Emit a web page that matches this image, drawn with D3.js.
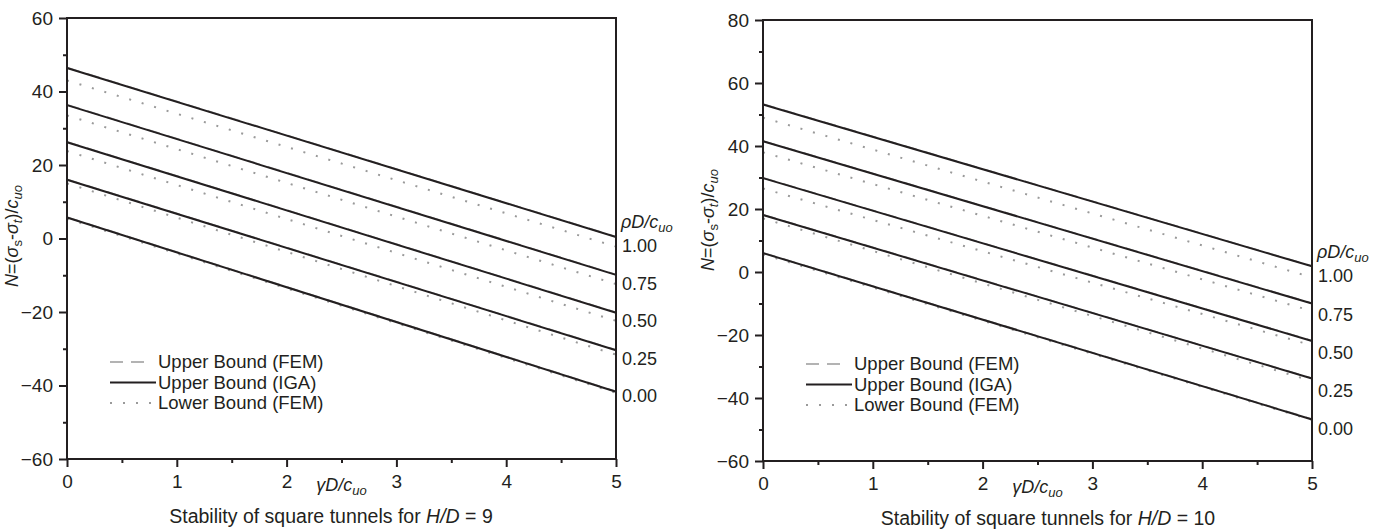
<!DOCTYPE html>
<html><head><meta charset="utf-8">
<script src="https://cdn.jsdelivr.net/npm/d3@7"></script>
<style>
html,body{margin:0;padding:0;background:#fff;}
svg{display:block;font-family:"Liberation Sans",Arial,Helvetica,sans-serif;}
</style></head><body>
<svg id="chart" width="1387" height="530"></svg>
<script>
// ---- data --------------------------------------------------------------
const rhoLabels = ["1.00", "0.75", "0.50", "0.25", "0.00"];
const gammaValues = [0, 5];
const xTicks = [0, 1, 2, 3, 4, 5];
const xMinorTicks = [0.5, 1.5, 2.5, 3.5, 4.5];
const yTicksH9 = [-60, -40, -20, 0, 20, 40, 60];
const yMinorH9 = [-50, -30, -10, 10, 30, 50];
const yTicksH10 = [-60, -40, -20, 0, 20, 40, 60, 80];
const yMinorH10 = [-50, -30, -10, 10, 30, 50, 70];
const legendLabels = ["Upper Bound (FEM)", "Upper Bound (IGA)", "Lower Bound (FEM)"];

// H/D = 9 : N at γD/c_uo = 0 and 5, one entry per ρD/c_uo
const igaH9At0 = [46.4, 36.3, 26.2, 16.0, 5.7];
const igaH9At5 = [0.4, -9.9, -20.2, -30.4, -41.7];
const ubFemH9At0 = [46.5, 36.4, 26.3, 16.1, 5.8];
const ubFemH9At5 = [0.5, -9.8, -20.1, -30.3, -41.6];
const lbFemH9At0 = [43.0, 33.5, 23.8, 15.0, 5.4];
const lbFemH9At5 = [-2.2, -12.4, -22.4, -31.6, -42.0];

// H/D = 10
const igaH10At0 = [53.2, 41.5, 29.8, 18.1, 6.0];
const igaH10At5 = [1.8, -10.0, -21.9, -33.8, -46.8];
const ubFemH10At0 = [53.3, 41.6, 29.9, 18.2, 6.1];
const ubFemH10At5 = [1.9, -9.9, -21.8, -33.7, -46.7];
const lbFemH10At0 = [49.0, 38.0, 26.5, 17.0, 5.6];
const lbFemH10At5 = [-1.7, -12.4, -23.3, -34.6, -47.0];

// ---- drawing -----------------------------------------------------------
const ink = "#231f20";
const grey = "#9a9a9a";
const svg = d3.select("#chart");

const panels = [
  { hd: "9", left: 67, right: 616, top: 18, bottom: 459, yDomain: [-60, 60],
    yTicks: yTicksH9, yMinor: yMinorH9,
    iga: [igaH9At0, igaH9At5], ub: [ubFemH9At0, ubFemH9At5], lb: [lbFemH9At0, lbFemH9At5],
    labelFirst: -2.0, labelLast: -42.8, headerAt: 4.5,
    titleCenter: 236, captionX: 331 },
  { hd: "10", left: 763, right: 1312, top: 20, bottom: 461, yDomain: [-60, 80],
    yTicks: yTicksH10, yMinor: yMinorH10,
    iga: [igaH10At0, igaH10At5], ub: [ubFemH10At0, ubFemH10At5], lb: [lbFemH10At0, lbFemH10At5],
    labelFirst: -1.3, labelLast: -49.7, headerAt: 6.6,
    titleCenter: 220, captionX: 1048 }
];

function lineSeries(pair) {
  return pair[0].map((v, i) => gammaValues.map((g, k) => [g, pair[k][i]]));
}

panels.forEach(p => {
  const g = svg.append("g");
  const x = d3.scaleLinear().domain([0, 5]).range([p.left, p.right]);
  const y = d3.scaleLinear().domain(p.yDomain).range([p.bottom, p.top]);
  const line = d3.line().x(d => x(d[0])).y(d => y(d[1]));

  // curves: upper FEM (dashed) under lower FEM (dotted) under IGA (solid)
  g.selectAll(".ub").data(lineSeries(p.ub)).join("path")
    .attr("d", line).attr("fill", "none").attr("stroke", grey)
    .attr("stroke-width", 1.6).attr("stroke-dasharray", "13,8");
  g.selectAll(".lb").data(lineSeries(p.lb)).join("path")
    .attr("d", line).attr("fill", "none").attr("stroke", grey)
    .attr("stroke-width", 2).attr("stroke-dasharray", "2,11");
  g.selectAll(".iga").data(lineSeries(p.iga)).join("path")
    .attr("d", line).attr("fill", "none").attr("stroke", ink)
    .attr("stroke-width", 2);

  // axes
  const fmt = d => d3.format("d")(d);
  const yAx = g.append("g").attr("transform", `translate(${p.left},0)`)
    .call(d3.axisLeft(y).tickValues(p.yTicks).tickSize(8).tickPadding(6).tickFormat(fmt));
  const yMin = g.append("g").attr("transform", `translate(${p.left},0)`)
    .call(d3.axisLeft(y).tickValues(p.yMinor).tickSize(4).tickFormat(""));
  const xAx = g.append("g").attr("transform", `translate(0,${p.bottom})`)
    .call(d3.axisBottom(x).tickValues(xTicks).tickSize(8).tickPadding(8).tickFormat(fmt));
  const xMin = g.append("g").attr("transform", `translate(0,${p.bottom})`)
    .call(d3.axisBottom(x).tickValues(xMinorTicks).tickSize(4).tickFormat(""));
  [yAx, yMin, xAx, xMin].forEach(a => {
    a.select(".domain").remove();
    a.selectAll("line").attr("stroke", ink).attr("stroke-width", 2);
    a.selectAll("text").attr("fill", ink).style("font-size", "19px")
      .style("font-family", '"Liberation Sans",Arial,sans-serif');
  });

  // frame
  g.append("rect").attr("x", p.left).attr("y", p.top)
    .attr("width", p.right - p.left).attr("height", p.bottom - p.top)
    .attr("fill", "none").attr("stroke", ink).attr("stroke-width", 2);

  // ρD/c_uo labels at the right edge
  const lab = g.append("g").attr("fill", ink).style("font-size", "18px");
  const hdr = lab.append("text").attr("x", p.right + 5).attr("y", y(p.headerAt)).attr("dy", "0.35em");
  hdr.append("tspan").style("font-style", "italic").text("ρD/c");
  hdr.append("tspan").style("font-style", "italic").style("font-size", "13px").attr("dy", "4").text("uo");
  const ls = d3.scaleLinear().domain([0, rhoLabels.length - 1]).range([p.labelFirst, p.labelLast]);
  lab.selectAll(".rho").data(rhoLabels).join("text")
    .attr("x", p.right + 6).attr("y", (d, i) => y(ls(i))).attr("dy", "0.35em").text(d => d);

  // legend
  const lgTop = p.bottom - 97;
  const lg = g.append("g");
  const styles = [
    { stroke: grey, w: 1.6, dash: "13,8", len: 34 },
    { stroke: ink, w: 2, dash: null, len: 46 },
    { stroke: grey, w: 2, dash: "2,11", len: 43 }
  ];
  legendLabels.forEach((t, i) => {
    const yy = lgTop + i * 20.5;
    lg.append("line").attr("x1", p.left + 43).attr("x2", p.left + 43 + styles[i].len)
      .attr("y1", yy).attr("y2", yy).attr("stroke", styles[i].stroke)
      .attr("stroke-width", styles[i].w).attr("stroke-dasharray", styles[i].dash);
    lg.append("text").attr("x", p.left + 91).attr("y", yy).attr("dy", "0.35em")
      .attr("fill", ink).style("font-size", "18.5px").text(t);
  });

  // x-axis symbol
  const xl = g.append("text").attr("x", x(2.27)).attr("y", p.bottom + 26).attr("dy", "0.35em")
    .attr("fill", ink).style("font-size", "18px");
  xl.append("tspan").style("font-style", "italic").text("γD/c");
  xl.append("tspan").style("font-style", "italic").style("font-size", "13px").attr("dy", "4").text("uo");

  // y-axis title
  const yt = g.append("text").attr("transform", `translate(${p.left - 49},${p.titleCenter}) rotate(-90)`)
    .attr("text-anchor", "middle").attr("fill", ink).style("font-size", "18px");
  yt.append("tspan").style("font-style", "italic").text("N");
  yt.append("tspan").text("=(");
  yt.append("tspan").style("font-style", "italic").text("σ");
  yt.append("tspan").style("font-size", "13px").attr("dy", "4").text("s");
  yt.append("tspan").attr("dy", "-4").text("-");
  yt.append("tspan").style("font-style", "italic").text("σ");
  yt.append("tspan").style("font-size", "13px").style("font-style", "italic").attr("dy", "4").text("t");
  yt.append("tspan").attr("dy", "-4").text(")/");
  yt.append("tspan").style("font-style", "italic").text("c");
  yt.append("tspan").style("font-style", "italic").style("font-size", "13px").attr("dy", "4").text("uo");

  // caption
  const cap = g.append("text").attr("x", p.captionX).attr("y", p.bottom + 57).attr("dy", "0.35em")
    .attr("text-anchor", "middle").attr("fill", ink).style("font-size", "19.5px");
  cap.append("tspan").text("Stability of square tunnels for ");
  cap.append("tspan").style("font-style", "italic").text("H/D");
  cap.append("tspan").text(" = " + p.hd);
});
</script>
</body></html>
